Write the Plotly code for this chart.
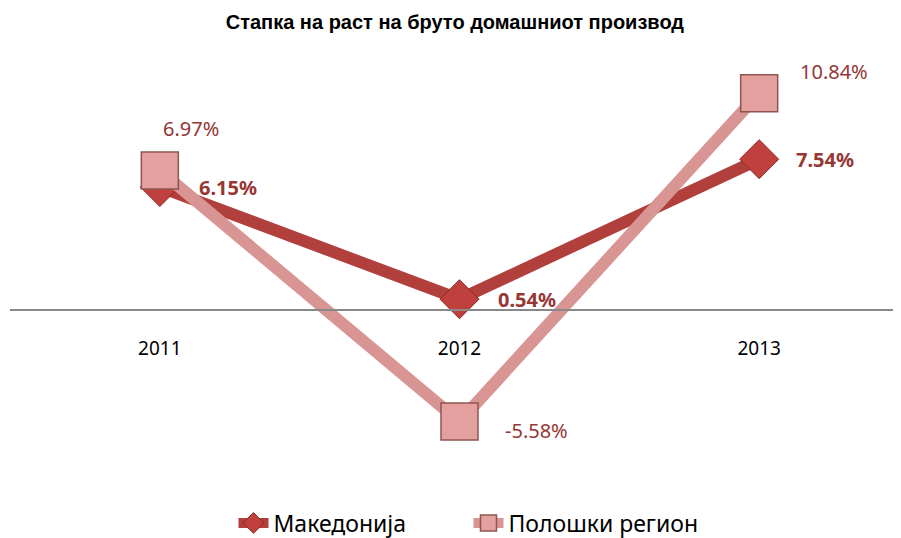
import plotly.graph_objects as go

years = ["2011", "2012", "2013"]
makedonija = [6.15, 0.54, 7.54]
polog = [6.97, -5.58, 10.84]
mk_labels = ["6.15%", "0.54%", "7.54%"]
pl_labels = ["6.97%", "-5.58%", "10.84%"]

dark = "#B13F3C"
light = "#D99594"
label_col = "#953735"

fig = go.Figure()
fig.add_trace(go.Scatter(
    x=years, y=makedonija, name="Македонија", mode="lines+markers",
    line=dict(color=dark, width=12),
    marker=dict(symbol="diamond", size=30, color="#C0403D", line=dict(color="#8C2A28", width=1)),
))
fig.add_trace(go.Scatter(
    x=years, y=polog, name="Полошки регион", mode="lines+markers",
    line=dict(color=light, width=12),
    marker=dict(symbol="square", size=37, color="#E3A09E", line=dict(color="#8E5452", width=1.5)),
))

mk_shift = [(68, 0), (67, 0), (66, 0)]
for i, (y, t, (dx, dy)) in enumerate(zip(makedonija, mk_labels, mk_shift)):
    fig.add_annotation(x=i, y=y, xref="x", yref="y", text="<b>" + t + "</b>", showarrow=False,
                       xshift=dx, yshift=dy,
                       font=dict(family="Noto Sans", size=20, color=label_col))
pl_shift = [(31, 42), (77, -9), (75, 22)]
for i, (y, t, (dx, dy)) in enumerate(zip(polog, pl_labels, pl_shift)):
    fig.add_annotation(x=i, y=y, xref="x", yref="y", text=t, showarrow=False,
                       xshift=dx, yshift=dy,
                       font=dict(family="Noto Sans", size=20, color=label_col))

fig.update_layout(
    width=901, height=538,
    margin=dict(l=2, r=0, t=42, b=66),
    paper_bgcolor="white", plot_bgcolor="white",
    title=dict(text="<b>Стапка на раст на бруто домашниот производ</b>",
               x=0.496, xanchor="center", y=0.974, yanchor="middle",
               font=dict(family="Liberation Sans", size=20, color="black")),
    showlegend=True,
    legend=dict(orientation="h", x=0.51, xanchor="center", y=-(515 - 472) / 430,
                yanchor="middle",
                font=dict(family="Noto Sans", size=23, color="black"),
                entrywidth=190, traceorder="normal"),
    xaxis=dict(type="category", anchor="free", position=8.5 / 21.5,
               showline=True, linecolor="#888888", linewidth=1.5,
               showgrid=False, ticks="", ticklabelstandoff=21,
               tickfont=dict(family="Noto Sans", size=19, color="black"),
               range=[-0.5, 2.5]),
    yaxis=dict(range=[-8.5, 13], visible=False, showgrid=False, zeroline=False),
)

fig.write_html("out.html")
